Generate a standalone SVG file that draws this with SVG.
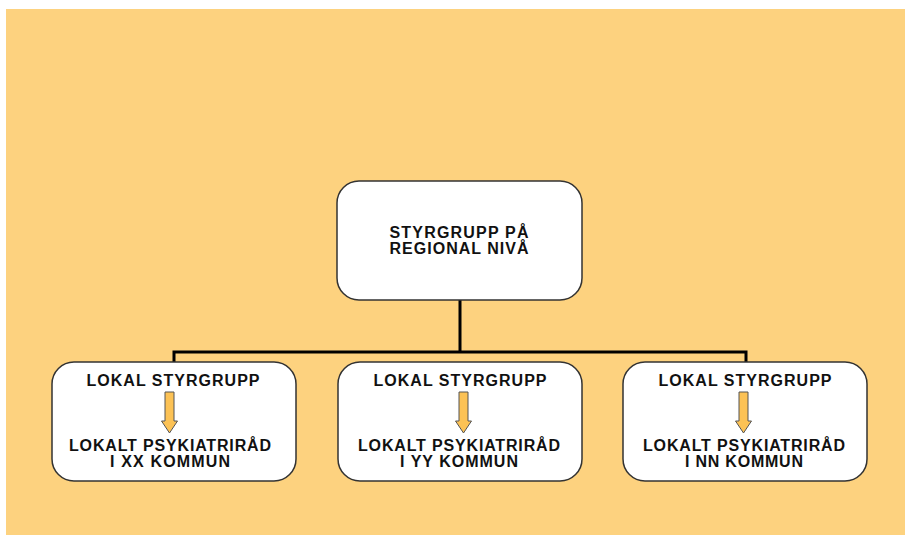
<svg xmlns="http://www.w3.org/2000/svg" width="905" height="535" viewBox="0 0 905 535">
<style>
.box{fill:#ffffff;stroke:#333333;stroke-width:1.5}
.t{font-family:"Liberation Sans",Arial,sans-serif;font-weight:bold;font-size:16px;fill:#111111;text-anchor:middle}
.arr{fill:#fcc255;stroke:#555555;stroke-width:1}
.con{fill:none;stroke:#000000;stroke-width:3}
</style>
<rect x="0" y="0" width="905" height="535" fill="#ffffff"/>
<rect x="6" y="9" width="899" height="526" fill="#fdd27f"/>
<g id="connectors">
<path class="con" d="M460,300 V352 M174,362 V352 H746 V362"/>
</g>
<g id="top">
<rect class="box" x="337" y="181" width="245" height="119" rx="22"/>
<text class="t" x="459" y="238" textLength="139" lengthAdjust="spacing">STYRGRUPP PÅ</text>
<text class="t" x="459" y="254" textLength="139" lengthAdjust="spacing">REGIONAL NIVÅ</text>
</g>
<g id="xx">
<rect class="box" x="52" y="362" width="244" height="119" rx="22"/>
<text class="t" x="173" y="386" textLength="173" lengthAdjust="spacing">LOKAL STYRGRUPP</text>
<path class="arr" d="M165,392 H174 V421 H177.5 L169.5,433 L161.5,421 H165 Z"/>
<text class="t" x="170" y="451" textLength="202" lengthAdjust="spacing">LOKALT PSYKIATRIRÅD</text>
<text class="t" x="170" y="467" textLength="120" lengthAdjust="spacing">I XX KOMMUN</text>
</g>
<g id="yy">
<rect class="box" x="338" y="362" width="244" height="119" rx="22"/>
<text class="t" x="460" y="386" textLength="173" lengthAdjust="spacing">LOKAL STYRGRUPP</text>
<path class="arr" d="M459,392 H468 V421 H471.5 L463.5,433 L455.5,421 H459 Z"/>
<text class="t" x="459" y="451" textLength="202" lengthAdjust="spacing">LOKALT PSYKIATRIRÅD</text>
<text class="t" x="459" y="467" textLength="118" lengthAdjust="spacing">I YY KOMMUN</text>
</g>
<g id="nn">
<rect class="box" x="623" y="362" width="244" height="119" rx="22"/>
<text class="t" x="745" y="386" textLength="173" lengthAdjust="spacing">LOKAL STYRGRUPP</text>
<path class="arr" d="M739,392 H748 V421 H751.5 L743.5,433 L735.5,421 H739 Z"/>
<text class="t" x="744" y="451" textLength="202" lengthAdjust="spacing">LOKALT PSYKIATRIRÅD</text>
<text class="t" x="744" y="467" textLength="118" lengthAdjust="spacing">I NN KOMMUN</text>
</g>
</svg>
